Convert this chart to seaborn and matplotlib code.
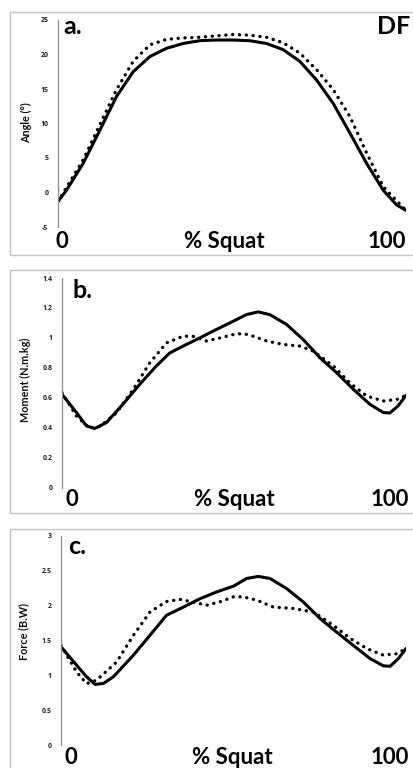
import matplotlib
matplotlib.use("Agg")
import matplotlib.pyplot as plt
import seaborn as sns
from matplotlib.patches import Rectangle

# panel a: ankle dorsiflexion angle (deg)
a_solid_x = [0, 2.4, 7.2, 12, 16.8, 21.6, 26.4, 31.2, 36, 40.7, 45.5, 50.3, 55.1, 59.9, 64.7, 69.5, 74.3, 79.1, 83.9, 88.7, 93.5, 97.3, 100]
a_solid_y = [-1.3, 0.3, 4.2, 9.0, 13.9, 17.5, 19.7, 20.9, 21.6, 22.0, 22.1, 22.1, 22.0, 21.6, 20.7, 19.0, 16.3, 12.9, 8.6, 4.2, 0.3, -1.8, -2.6]
a_dot_x = [0, 7.2, 12, 16.8, 21.6, 26.4, 31.2, 36, 40.7, 45.5, 50.3, 55.1, 59.9, 64.7, 69.5, 74.3, 79.1, 83.9, 88.7, 93.5, 100]
a_dot_y = [-1.3, 4.7, 9.8, 14.9, 19.0, 21.4, 22.2, 22.4, 22.5, 22.7, 22.9, 22.8, 22.5, 21.7, 20.2, 17.8, 14.9, 11.0, 5.7, 0.8, -2.6]

# panel b: moment (N.m.kg)
b_solid_x = [0, 4.2, 7.1, 9.5, 12.9, 17.7, 22.6, 27.4, 31.3, 35.2, 40, 44.9, 49.8, 53.6, 57, 60.4, 65.3, 70.1, 75, 79.8, 84.7, 89.5, 93.4, 95.3, 97.7, 100]
b_solid_y = [0.625, 0.503, 0.414, 0.397, 0.436, 0.558, 0.691, 0.813, 0.90, 0.946, 1.0, 1.057, 1.112, 1.156, 1.174, 1.156, 1.09, 0.99, 0.868, 0.769, 0.658, 0.558, 0.503, 0.50, 0.547, 0.618]
b_dot_x = [0, 4.2, 8, 11, 15.8, 20.7, 25.5, 30.4, 35.2, 38, 42, 45.9, 49.8, 52.7, 55.6, 59.5, 64.3, 69.2, 73, 78.9, 83.7, 88.6, 93.4, 97.3, 100]
b_dot_y = [0.635, 0.48, 0.40, 0.41, 0.50, 0.657, 0.834, 0.968, 1.012, 1.012, 0.98, 1.0, 1.023, 1.03, 1.012, 0.98, 0.957, 0.946, 0.913, 0.813, 0.70, 0.613, 0.58, 0.59, 0.617]

# panel c: force (B.W)
c_solid_x = [0, 4.5, 7.4, 9.9, 12.3, 15.2, 21, 25.8, 30.6, 35.5, 40.3, 45.1, 50, 53.8, 57.2, 60.6, 65.4, 70.2, 75.1, 79.9, 84.7, 89.6, 93.4, 95.4, 97.8, 100]
c_solid_y = [1.41, 1.147, 0.98, 0.87, 0.884, 0.98, 1.29, 1.576, 1.863, 1.98, 2.10, 2.197, 2.28, 2.39, 2.42, 2.39, 2.245, 2.055, 1.815, 1.62, 1.43, 1.24, 1.137, 1.13, 1.24, 1.385]
c_dot_x = [0, 4.5, 7.4, 10.3, 16.1, 21, 25.8, 30.6, 34.5, 38.4, 42.2, 46.1, 50, 52.8, 56.7, 61.5, 67.3, 73.1, 78.9, 83.8, 88.6, 93.4, 97.3, 100]
c_dot_y = [1.43, 1.05, 0.88, 0.93, 1.19, 1.576, 1.91, 2.06, 2.09, 2.05, 2.007, 2.055, 2.127, 2.127, 2.08, 1.98, 1.96, 1.91, 1.72, 1.53, 1.385, 1.29, 1.31, 1.385]

a_ticks = [-5, 0, 5, 10, 15, 20, 25]
b_ticks = [0, 0.2, 0.4, 0.6, 0.8, 1, 1.2, 1.4]
b_labels = ["0", "0.2", "0.4", "0.6", "0.8", "1", "1.2", "1.4"]
c_ticks = [0, 0.5, 1, 1.5, 2, 2.5, 3]
c_labels = ["0", "0.5", "1", "1.5", "2", "2.5", "3"]

sns.set_style("white")
plt.rcParams['font.family'] = ['Lato', 'DejaVu Sans']

W, H = 413, 768
fig = plt.figure(figsize=(W / 100, H / 100), dpi=100)

def fx(px):
    return px / W

def fy(py):
    return 1 - py / H

def make_panel(left, right, top, bottom, box_top, box_bottom):
    fig.add_artist(Rectangle((fx(10), fy(box_bottom)), fx(420) - fx(10), fy(box_top) - fy(box_bottom),
                             transform=fig.transFigure, fill=False, edgecolor='#c4c4c4', lw=1.0))
    ax = fig.add_axes([fx(left), fy(bottom), fx(right) - fx(left), fy(top) - fy(bottom)])
    ax.patch.set_alpha(0)
    for s in ['top', 'right', 'bottom']:
        ax.spines[s].set_visible(False)
    ax.spines['left'].set_color('#8c8c8c')
    ax.spines['left'].set_linewidth(0.9)
    ax.set_xticks([])
    ax.set_xlim(0, 100)
    ax.tick_params(axis='y', direction='out', length=3, width=0.8, color='#8c8c8c',
                   labelsize=5, pad=4, labelcolor='#222222')
    return ax

def draw(ax, sx, sy, dx, dy):
    sns.lineplot(x=dx, y=dy, ax=ax, color='black', lw=2.4, linestyle=(0, (0.05, 2.0)),
                 estimator=None, sort=False)
    sns.lineplot(x=sx, y=sy, ax=ax, color='black', lw=2.2, estimator=None, sort=False)
    ax.set_ylabel('')
    for l in ax.get_lines():
        l.set_dash_capstyle('round')
        l.set_solid_capstyle('round')

def set_ticks(ax, ticks, labels):
    ax.set_yticks(ticks)
    ax.set_yticklabels(labels, fontweight='bold', family='Open Sans')

# a.
ax1 = make_panel(58, 406, 20, 227, 12, 255)
draw(ax1, a_solid_x, a_solid_y, a_dot_x, a_dot_y)
ax1.set_ylim(-5, 25)
set_ticks(ax1, a_ticks, [str(t) for t in a_ticks])

# b.
ax2 = make_panel(62, 406, 278, 488, 270, 513)
draw(ax2, b_solid_x, b_solid_y, b_dot_x, b_dot_y)
ax2.set_ylim(0, 1.4)
set_ticks(ax2, b_ticks, b_labels)

# c.
ax3 = make_panel(61, 406, 536, 745, 529, 780)
draw(ax3, c_solid_x, c_solid_y, c_dot_x, c_dot_y)
ax3.set_ylim(0, 3)
set_ticks(ax3, c_ticks, c_labels)

big = dict(fontsize=16, fontweight='bold', va='center', color='black')
for (y0, x0, xs, x100) in [(241, 62, 224, 387), (500, 72, 234, 390), (757, 71, 232, 390)]:
    fig.text(fx(x0), fy(y0), "0", ha='center', **big)
    fig.text(fx(xs), fy(y0), "% Squat", ha='center', **big)
    fig.text(fx(x100), fy(y0), "100", ha='center', **big)

lab = dict(fontsize=18, fontweight='bold', va='center', color='black')
fig.text(fx(63), fy(26), "a.", ha='left', **lab)
fig.text(fx(410), fy(27), "DF", ha='right', **lab)
fig.text(fx(72), fy(291), "b.", ha='left', **lab)
fig.text(fx(68), fy(546), "c.", ha='left', **lab)

yl = dict(fontsize=7.8, fontweight='bold', rotation=90, ha='center', va='center', color='#111111')
fig.text(fx(27), fy(123), "Angle (°)", **yl)
fig.text(fx(25), fy(380), "Moment (N.m.kg)", **yl)
fig.text(fx(24), fy(632), "Force (B.W)", **yl)

fig.savefig('out.png', dpi=100)
